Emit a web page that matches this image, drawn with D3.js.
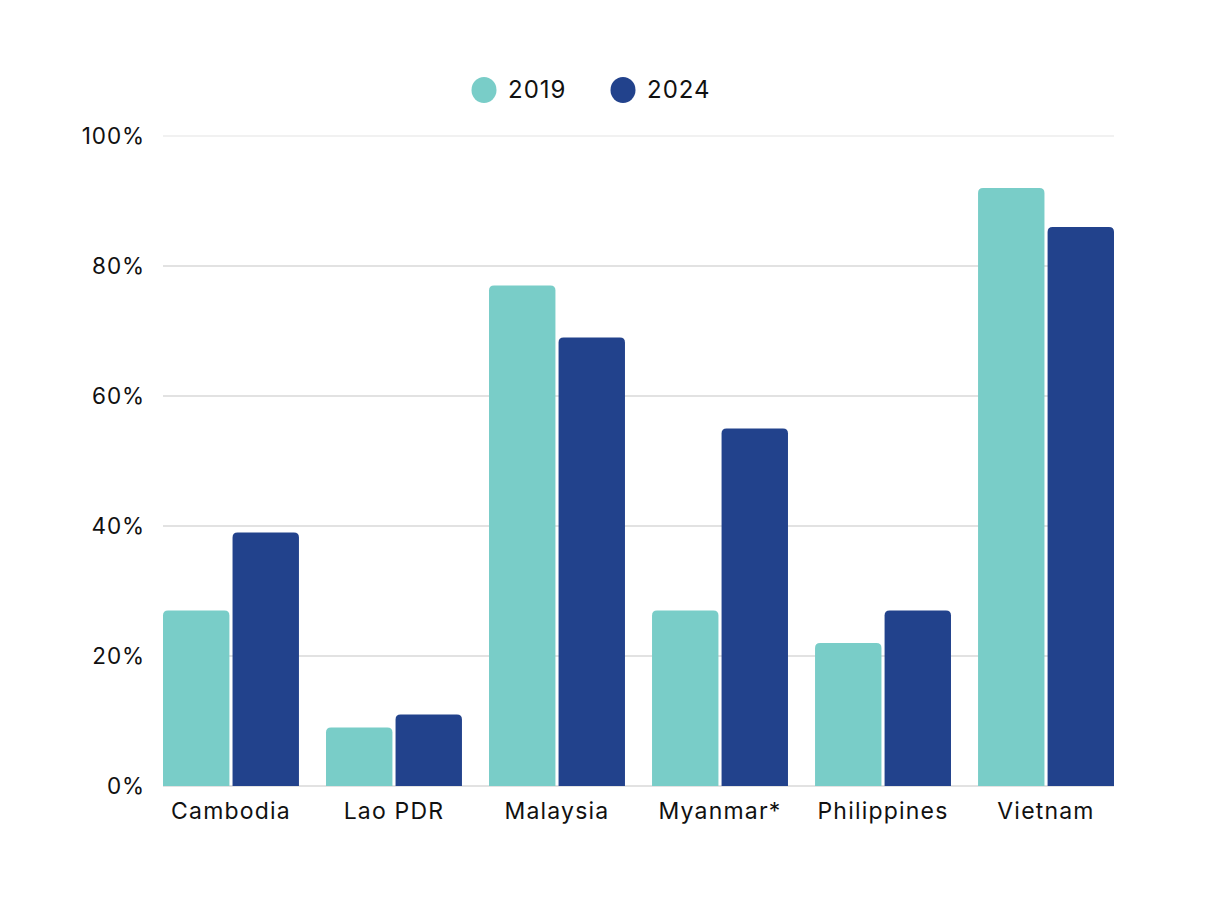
<!DOCTYPE html>
<html><head><meta charset="utf-8">
<script src="https://cdn.jsdelivr.net/npm/d3@7"></script>
<style>html,body{margin:0;padding:0;background:#fff;}svg{display:block;font-family:Inter,"Open Sans",sans-serif;}</style>
</head><body>
<svg id="c" width="1232" height="924"></svg>
<script>
const categories = ["Cambodia","Lao PDR","Malaysia","Myanmar*","Philippines","Vietnam"];
const seriesNames = ["2019","2024"];
const values2019 = [27, 9, 77, 27, 22, 92];
const values2024 = [39, 11, 69, 55, 27, 86];
const yTicks = [0,20,40,60,80,100];
const colors = ["#79CDC8","#22428C"];

const svg = d3.select("#c");
const x0 = d3.scaleBand().domain(categories).range([163,1114]).paddingInner(0.166).paddingOuter(0);
const x1 = d3.scaleBand().domain(seriesNames).range([0,x0.bandwidth()]).paddingInner(0.045);
const y = d3.scaleLinear().domain([0,100]).range([786,136]);
const color = d3.scaleOrdinal().domain(seriesNames).range(colors);

// gridlines
svg.append("g").selectAll("line").data(yTicks).join("line")
  .attr("x1",163).attr("x2",1114)
  .attr("y1",d=>y(d)).attr("y2",d=>y(d))
  .attr("stroke",d=>d===100?"#e4e4e4":"#c6c6c6").attr("stroke-width",1.2);

// y labels
svg.append("g").selectAll("text").data(yTicks).join("text")
  .attr("x",145).attr("y",d=>y(d)).attr("dy","0.35em")
  .attr("text-anchor","end").attr("font-size",22.5).attr("letter-spacing",0.9).attr("fill","#111")
  .text(d=>d+"%");

const data = categories.map((c,i)=>({cat:c, vals:[{s:"2019",v:values2019[i]},{s:"2024",v:values2024[i]}]}));
const r = 5;
function barPath(x,w,yt,yb){
  const rr = Math.min(r, (yb-yt));
  return `M${x},${yb}V${yt+rr}Q${x},${yt} ${x+rr},${yt}H${x+w-rr}Q${x+w},${yt} ${x+w},${yt+rr}V${yb}Z`;
}
const groups = svg.append("g").selectAll("g").data(data).join("g")
  .attr("transform",d=>`translate(${x0(d.cat)},0)`);
groups.selectAll("path").data(d=>d.vals).join("path")
  .attr("fill",d=>color(d.s))
  .attr("d",d=>barPath(x1(d.s),x1.bandwidth(),y(d.v),y(0)));

// x labels
svg.append("g").selectAll("text").data(categories).join("text")
  .attr("x",d=>x0(d)+x0.bandwidth()/2).attr("y",819)
  .attr("text-anchor","middle").attr("font-size",23).attr("letter-spacing",1.2).attr("fill","#111")
  .text(d=>d);

// legend
const legX = [484, 623];
const leg = svg.append("g").selectAll("g").data(seriesNames).join("g")
  .attr("transform",(d,i)=>`translate(${legX[i]},90)`);
leg.append("ellipse").attr("rx",12.5).attr("ry",13).attr("fill",d=>color(d));
leg.append("text").attr("x",24).attr("dy","0.35em").attr("font-size",24).attr("letter-spacing",1).attr("fill","#111").text(d=>d);
</script>
</body></html>
